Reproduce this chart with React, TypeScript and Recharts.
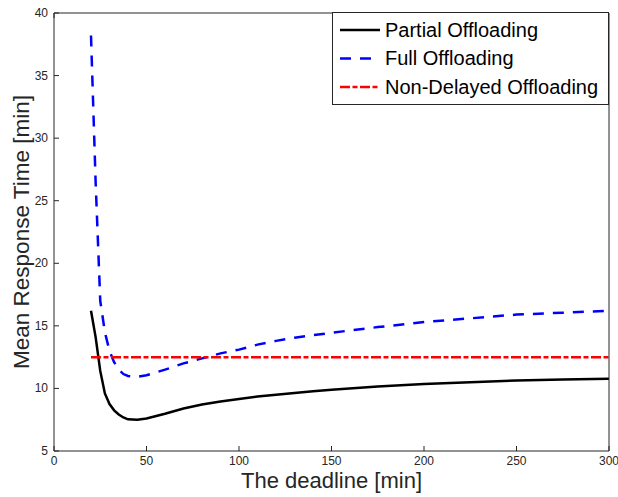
import { LineChart, Line, XAxis, YAxis, Legend } from "recharts"

const FONT = "'Liberation Sans', Arial, Helvetica, sans-serif"
const AXIS = "#262626"

// deadline [min]
const deadline = [20, 22.5, 25, 27.5, 30, 32.5, 35, 37.5, 40, 45, 50, 60, 70, 80, 90, 100, 110, 120, 130, 140, 150, 175, 200, 225, 250, 275, 300]
// mean response time [min]
const partial = [16.2, 14.1, 11.4, 9.6, 8.75, 8.25, 7.92, 7.68, 7.53, 7.5, 7.6, 7.98, 8.4, 8.72, 8.95, 9.16, 9.35, 9.5, 9.63, 9.77, 9.9, 10.15, 10.35, 10.5, 10.63, 10.72, 10.77]
const full = [38.2, 26.5, 17.0, 14.5, 13.0, 12.1, 11.5, 11.15, 11.0, 10.92, 11.05, 11.5, 12.0, 12.4, 12.8, 13.1, 13.5, 13.8, 14.05, 14.25, 14.45, 14.9, 15.3, 15.6, 15.9, 16.05, 16.2]
const nonDelayed = [12.5, 12.5, 12.5, 12.5, 12.5, 12.5, 12.5, 12.5, 12.5, 12.5, 12.5, 12.5, 12.5, 12.5, 12.5, 12.5, 12.5, 12.5, 12.5, 12.5, 12.5, 12.5, 12.5, 12.5, 12.5, 12.5, 12.5]

const xTicks = [0, 50, 100, 150, 200, 250, 300]
const yTicks = [5, 10, 15, 20, 25, 30, 35, 40]

const data = deadline.map((d, i) => ({
  deadline: d,
  partial: partial[i],
  full: full[i],
  nonDelayed: nonDelayed[i],
}))

const seriesOrder = ["partial", "full", "nonDelayed"]
const seriesStyle: Record<string, { color: string; dash?: string }> = {
  partial: { color: "#000000" },
  full: { color: "#0000ff", dash: "11 9" },
  nonDelayed: { color: "#ff0000", dash: "10 2.5 5 2.5" },
}

const BottomTick = ({ x, y, payload }: any) => (
  <g>
    <line x1={x} x2={x} y1={y} y2={y - 5} stroke={AXIS} />
    <text x={x} y={y + 14} textAnchor="middle" fontSize={12} fill={AXIS} fontFamily={FONT}>
      {payload.value}
    </text>
  </g>
)

const TopTick = ({ x, y }: any) => <line x1={x} x2={x} y1={y} y2={y + 5} stroke={AXIS} />

const LeftTick = ({ x, y, payload }: any) => (
  <g>
    <line x1={x} x2={x + 5} y1={y} y2={y} stroke={AXIS} />
    <text x={x - 6} y={y + 4} textAnchor="end" fontSize={12} fill={AXIS} fontFamily={FONT}>
      {payload.value}
    </text>
  </g>
)

const RightTick = ({ x, y }: any) => <line x1={x} x2={x - 5} y1={y} y2={y} stroke={AXIS} />

const LegendBox = ({ payload }: any) => {
  const items = [...(payload || [])].sort(
    (a: any, b: any) => seriesOrder.indexOf(a.dataKey) - seriesOrder.indexOf(b.dataKey)
  )
  return (
    <div style={{ width: 277, height: 93, border: `1px solid ${AXIS}`, background: "#fff", boxSizing: "border-box" }}>
      <svg width={275} height={91}>
        {items.map((entry: any, i: number) => {
          const s = seriesStyle[entry.dataKey]
          const cy = 17 + i * 28.5
          return (
            <g key={entry.dataKey}>
              <line x1={7} x2={47} y1={cy} y2={cy} stroke={s.color} strokeWidth={2.5} strokeDasharray={s.dash} />
              <text x={52} y={cy + 6.5} fontSize={20} fill="#000" fontFamily={FONT}>
                {entry.value}
              </text>
            </g>
          )
        })}
      </svg>
    </div>
  )
}

export default function App() {
  return (
    <div style={{ position: "absolute", left: 0, top: 0, width: 618, height: 497, background: "#fff" }}>
      <LineChart
        width={618}
        height={497}
        data={data}
        margin={{ top: 12, right: 8, bottom: 0, left: 0 }}
        style={{ fontFamily: FONT }}
      >
        <XAxis
          dataKey="deadline"
          type="number"
          domain={[0, 300]}
          ticks={xTicks}
          interval={0}
          height={46}
          tickSize={0}
          tickMargin={0}
          tickLine={false}
          axisLine={{ stroke: AXIS }}
          tick={BottomTick}
          label={{
            value: "The deadline [min]",
            position: "insideBottom",
            offset: 9,
            fontSize: 22,
            fill: AXIS,
            fontFamily: FONT,
          }}
        />
        <XAxis
          xAxisId="top"
          orientation="top"
          type="number"
          domain={[0, 300]}
          ticks={xTicks}
          interval={0}
          height={1}
          tickSize={0}
          tickMargin={0}
          tickLine={false}
          axisLine={{ stroke: AXIS }}
          tick={TopTick}
        />
        <YAxis
          type="number"
          domain={[5, 40]}
          ticks={yTicks}
          interval={0}
          width={54}
          tickSize={0}
          tickMargin={0}
          tickLine={false}
          axisLine={{ stroke: AXIS }}
          tick={LeftTick}
          label={{
            value: "Mean Response Time [min]",
            angle: -90,
            position: "insideLeft",
            offset: 21,
            fontSize: 22.5,
            fill: AXIS,
            fontFamily: FONT,
            style: { textAnchor: "middle" },
          }}
        />
        <YAxis
          yAxisId="right"
          orientation="right"
          type="number"
          domain={[5, 40]}
          ticks={yTicks}
          interval={0}
          width={1}
          tickSize={0}
          tickMargin={0}
          tickLine={false}
          axisLine={{ stroke: AXIS }}
          tick={RightTick}
        />
        <Legend
          layout="horizontal"
          align="center"
          verticalAlign="middle"
          content={LegendBox}
          wrapperStyle={{ top: 12, left: 332, width: 277, height: 93 }}
        />
        <Line
          name="Partial Offloading"
          dataKey="partial"
          type="linear"
          stroke={seriesStyle.partial.color}
          strokeWidth={2.5}
          dot={false}
          isAnimationActive={false}
        />
        <Line
          name="Full Offloading"
          dataKey="full"
          type="linear"
          stroke={seriesStyle.full.color}
          strokeDasharray={seriesStyle.full.dash}
          strokeWidth={2.5}
          dot={false}
          isAnimationActive={false}
        />
        <Line
          name="Non-Delayed Offloading"
          dataKey="nonDelayed"
          type="linear"
          stroke={seriesStyle.nonDelayed.color}
          strokeDasharray={seriesStyle.nonDelayed.dash}
          strokeWidth={2.5}
          dot={false}
          isAnimationActive={false}
        />
      </LineChart>
    </div>
  )
}
